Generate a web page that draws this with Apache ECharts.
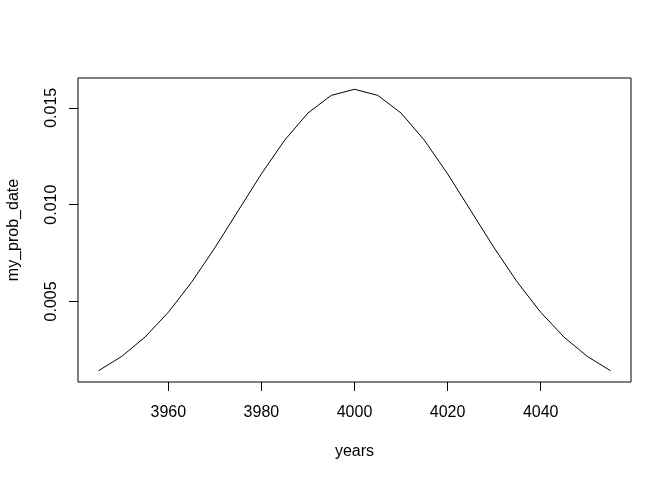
<!DOCTYPE html>
<html>
<head>
<meta charset="utf-8">
<script src="https://cdn.jsdelivr.net/npm/echarts@6/dist/echarts.min.js"></script>
<style>html,body{margin:0;padding:0;background:#fff}#c{width:672px;height:480px}</style>
</head>
<body>
<div id="c"></div>
<script>
const years = [3945,3950,3955,3960,3965,3970,3975,3980,3985,3990,3995,4000,4005,4010,4015,4020,4025,4030,4035,4040,4045,4050,4055];
const myProbDate = [0.001419,0.002160,0.003158,0.004437,0.005989,0.007767,0.009679,0.011588,0.013329,0.014731,0.015642,0.015958,0.015642,0.014731,0.013329,0.011588,0.009679,0.007767,0.005989,0.004437,0.003158,0.002160,0.001419];
const xTicks = [3960,3980,4000,4020,4040];
const yTicks = [0.005,0.010,0.015];

const chart = echarts.init(document.getElementById('c'), null, {renderer:'canvas'});
const font = 'Liberation Sans, Arial, sans-serif';
chart.setOption({
  animation:false,
  backgroundColor:'#fff',
  grid:{left:78,right:41,top:78,bottom:98,show:true,borderColor:'#000',borderWidth:1,backgroundColor:'transparent',containLabel:false,outerBoundsMode:'none'},
  xAxis:{
    type:'value',min:3940.6,max:4059.4,
    name:'years',nameLocation:'middle',nameGap:62,
    nameTextStyle:{color:'#000',fontFamily:font,fontSize:16},
    axisLine:{show:false},
    splitLine:{show:false},
    axisTick:{show:true,inside:false,length:9,customValues:xTicks,lineStyle:{color:'#000',width:1}},
    axisLabel:{customValues:xTicks,margin:23,color:'#000',fontFamily:font,fontSize:16,formatter:v=>String(v)}
  },
  yAxis:{
    type:'value',min:0.000837,max:0.01654,
    name:'my_prob_date',nameLocation:'middle',nameGap:56,nameRotate:90,
    nameTextStyle:{color:'#000',fontFamily:font,fontSize:16},
    axisLine:{show:false},
    splitLine:{show:false},
    axisTick:{show:true,inside:false,length:9,customValues:yTicks,lineStyle:{color:'#000',width:1}},
    axisLabel:{customValues:yTicks,rotate:90,margin:18,color:'#000',fontFamily:font,fontSize:16,
      formatter:v=>v.toFixed(3)}
  },
  series:[{
    type:'line',
    data:years.map((y,i)=>[y,myProbDate[i]]),
    showSymbol:false,symbol:'none',
    lineStyle:{color:'#000',width:1},
    silent:true
  }]
});
</script>
</body>
</html>
